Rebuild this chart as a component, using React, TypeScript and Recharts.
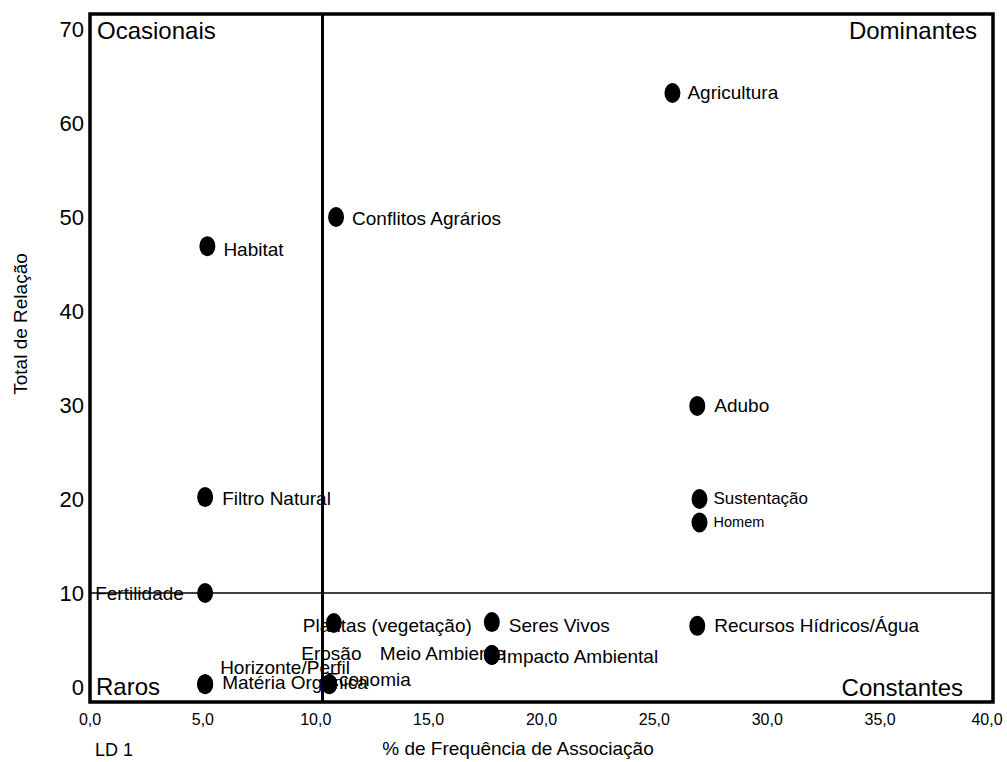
import {
  ScatterChart,
  Scatter,
  XAxis,
  YAxis,
  ReferenceLine,
  ReferenceArea,
  ReferenceDot,
} from "recharts";

// terms, % of association frequency (x), total of relations (y)
const TERMS = [
  "Agricultura",
  "Conflitos Agrários",
  "Habitat",
  "Adubo",
  "Sustentação",
  "Homem",
  "Filtro Natural",
  "Fertilidade",
  "Plantas (vegetação)",
  "Seres Vivos",
  "Recursos Hídricos/Água",
  "Meio Ambiente",
  "Impacto Ambiental",
  "Horizonte/Perfil",
  "Matéria Orgânica",
  "Erosão",
  "Economia",
];
const FREQ = [25.8, 10.9, 5.2, 26.9, 27.0, 27.0, 5.1, 5.1, 10.8, 17.8, 26.9, 17.8, 17.8, 5.1, 5.1, 10.6, 10.6];
const TOTAL = [63.2, 50.0, 46.9, 29.9, 20.0, 17.5, 20.2, 10.0, 6.8, 6.9, 6.5, 3.4, 3.4, 0.3, 0.3, 0.3, 0.3];

const X_TICKS = [0, 5, 10, 15, 20, 25, 30, 35, 40];
const Y_TICKS = [0, 10, 20, 30, 40, 50, 60, 70];
const Y_MIN = -1.6;
const Y_MAX = 71.6;
const X_CUT = 10.3; // vertical divider
const Y_CUT = 10; // horizontal divider

const CORNERS = [
  { text: "Ocasionais", x: 0, y: 70 },
  { text: "Dominantes", x: 40, y: 70 },
  { text: "Raros", x: 0, y: 0 },
  { text: "Constantes", x: 40, y: 0 },
];

const data = TERMS.map((name, i) => ({ name, x: FREQ[i], y: TOTAL[i] }));

// label placement relative to the dot (hand placed in the original)
const LABEL_POS: Record<string, { dx: number; dy: number; size?: number }> = {
  Agricultura: { dx: 15, dy: 0 },
  "Conflitos Agrários": { dx: 16, dy: 1 },
  Habitat: { dx: 16, dy: 3 },
  Adubo: { dx: 17, dy: 0 },
  Sustentação: { dx: 14, dy: 0, size: 17 },
  Homem: { dx: 14, dy: 0, size: 14.5 },
  "Filtro Natural": { dx: 17, dy: 1 },
  Fertilidade: { dx: -110, dy: 1 },
  "Plantas (vegetação)": { dx: -31, dy: 2 },
  "Seres Vivos": { dx: 17, dy: 3 },
  "Recursos Hídricos/Água": { dx: 17, dy: 0 },
  "Meio Ambiente": { dx: -112, dy: -2 },
  "Impacto Ambiental": { dx: 10, dy: 1 },
  "Horizonte/Perfil": { dx: 15, dy: -17 },
  "Matéria Orgânica": { dx: 17, dy: -2 },
  Erosão: { dx: -28, dy: -31 },
  Economia: { dx: -3, dy: -5 },
};

const CORNER_POS: Record<string, { dx: number; dy: number; anchor: "start" | "end" }> = {
  Ocasionais: { dx: 7, dy: 1, anchor: "start" },
  Dominantes: { dx: -16, dy: 1, anchor: "end" },
  Raros: { dx: 6, dy: 0, anchor: "start" },
  Constantes: { dx: -30, dy: 1, anchor: "end" },
};

const FONT = "'Liberation Sans', Arial, sans-serif";

const fmt = (v: number) => v.toFixed(1).replace(".", ",");

function XTick(props: any) {
  const { x, y, payload } = props;
  // last label is pulled in so it stays on the page
  const shift = payload.value === 40 ? -6 : 0;
  return (
    <text
      x={x + shift}
      y={y + 6}
      fontSize={16}
      fontFamily={FONT}
      fill="#000"
      textAnchor="middle"
      dominantBaseline="central"
    >
      {fmt(payload.value)}
    </text>
  );
}

function LabelShape(props: any) {
  const { cx, cy, payload } = props;
  const p = LABEL_POS[payload.name] || { dx: 15, dy: 0 };
  return (
    <text
      x={cx + p.dx}
      y={cy + p.dy}
      fontSize={p.size || 19}
      fontFamily={FONT}
      fill="#000"
      dominantBaseline="central"
    >
      {payload.name}
    </text>
  );
}

function DotShape(props: any) {
  const { cx, cy } = props;
  return <ellipse cx={cx} cy={cy} rx={8} ry={10} fill="#000" />;
}

function XTitle(props: any) {
  const { x, y } = props.viewBox;
  return (
    <g fontFamily={FONT} fill="#000">
      <text x={x + 5} y={y + 48} fontSize={18} dominantBaseline="central">
        LD 1
      </text>
      <text x={x + 428} y={y + 46} fontSize={19} textAnchor="middle" dominantBaseline="central">
        % de Frequência de Associação
      </text>
    </g>
  );
}

function YTitle() {
  return (
    <text
      x={20}
      y={324}
      transform="rotate(-90 20 324)"
      fontSize={19}
      fontFamily={FONT}
      fill="#000"
      textAnchor="middle"
      dominantBaseline="central"
    >
      Total de Relação
    </text>
  );
}

export default function App() {
  return (
    <div style={{ position: "absolute", left: 0, top: 0, background: "#fff" }}>
      <ScatterChart width={1007} height={762} margin={{ top: 14, right: 14, bottom: 0, left: 0 }}>
        <XAxis
          type="number"
          dataKey="x"
          domain={[0, 40]}
          ticks={X_TICKS}
          height={60}
          axisLine={false}
          tickLine={false}
          tickSize={0}
          tickMargin={11}
          tick={<XTick />}
          label={<XTitle />}
          interval={0}
        />
        <YAxis
          type="number"
          dataKey="y"
          domain={[Y_MIN, Y_MAX]}
          ticks={Y_TICKS}
          allowDataOverflow
          width={90}
          axisLine={false}
          tickLine={false}
          tickSize={0}
          tickMargin={6}
          tick={{ fontSize: 22, fill: "#000", fontFamily: FONT }}
          label={<YTitle />}
          interval={0}
        />

        <Scatter data={data} shape={LabelShape} isAnimationActive={false} />

        <ReferenceLine x={X_CUT} stroke="#000" strokeWidth={3} ifOverflow="visible" />
        <ReferenceLine y={Y_CUT} stroke="#000" strokeWidth={1.5} ifOverflow="visible" />
        <ReferenceArea
          x1={0}
          x2={40}
          y1={Y_MIN}
          y2={Y_MAX}
          fill="none"
          stroke="#000"
          strokeWidth={3.5}
          ifOverflow="visible"
        />

        {CORNERS.map((c) => {
          const p = CORNER_POS[c.text];
          return (
            <ReferenceDot
              key={c.text}
              x={c.x}
              y={c.y}
              r={0}
              ifOverflow="visible"
              shape={(s: any) => (
                <text
                  x={s.cx + p.dx}
                  y={s.cy + p.dy}
                  fontSize={24}
                  fontFamily={FONT}
                  fill="#000"
                  textAnchor={p.anchor}
                  dominantBaseline="central"
                >
                  {c.text}
                </text>
              )}
            />
          );
        })}

        <Scatter data={data} shape={DotShape} isAnimationActive={false} />
      </ScatterChart>
    </div>
  );
}
